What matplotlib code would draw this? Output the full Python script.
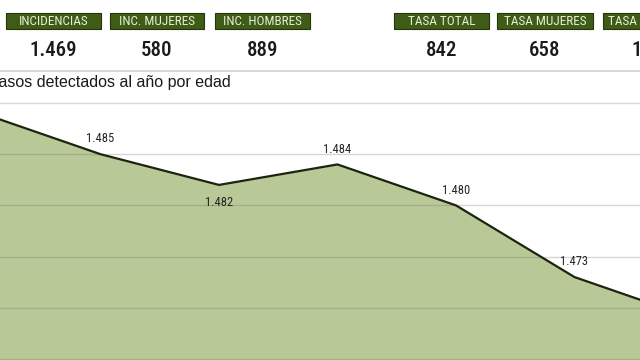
import matplotlib
matplotlib.use("Agg")
import matplotlib.pyplot as plt
from matplotlib.patches import Rectangle
from matplotlib import font_manager

# ---- data ----
header_labels = ["INCIDENCIAS", "INC. MUJERES", "INC. HOMBRES", "TASA TOTAL", "TASA MUJERES", "TASA HOMBRES"]
header_values = ["1.469", "580", "889", "842", "658", "1"]
title = "Casos detectados al año por edad"
series = [1489, 1485, 1482, 1484, 1480, 1473, 1469]
labelled = [1, 2, 3, 4, 5]          # indices that carry a data label
label_below = [2]                   # labels placed under the point
grid_values = [1465, 1470, 1475, 1480, 1485, 1490]

# pick a condensed face if one is installed
names = {f.name for f in font_manager.fontManager.ttflist}
cond_pref = ["Roboto Condensed", "Open Sans Condensed", "Liberation Sans Narrow",
             "DejaVu Sans Condensed", "Noto Sans Condensed"]
cond_name = next((n for n in cond_pref if n in names), None)
condensed_faces = [f.name for f in font_manager.fontManager.ttflist
                   if str(f.stretch) in ("condensed", "semi-condensed", "extra-condensed")]
if cond_name is None and condensed_faces:
    cond_name = condensed_faces[0]
cond = [cond_name, "DejaVu Sans"] if cond_name else ["DejaVu Sans"]

W, H = 640, 360
fig = plt.figure(figsize=(W / 100, H / 100), dpi=100)
fig.patch.set_facecolor("white")

# ---- chart ----
ax = fig.add_axes([0, 0, 1, 1])
ax.set_facecolor("none")
x = list(range(len(series)))
ax.fill_between(x, series, 1400, color="#b8c897", lw=0, zorder=1)
ax.plot(x, series, color="#1c2410", lw=1.6, zorder=4, solid_joinstyle="round")
for g in grid_values:
    ax.axhline(g, color="#707070", alpha=0.28, lw=1.0, zorder=2)
for i in labelled:
    v = series[i]
    off = -13 if i in label_below else 11
    ax.annotate(f"{v / 1000:.3f}", (x[i], v), xytext=(0, off), textcoords="offset points",
                ha="center", va="center", fontsize=9, color="#262626", family=cond,
                fontstretch="condensed", zorder=5)
ax.set_xlim(0.152, 5.553)
ax.set_ylim(1464.9, 1500.06)
ax.axis("off")

# ---- header ----
fig.add_artist(plt.Line2D([0, 1], [1 - 71 / H, 1 - 71 / H], color="#cfcfcf", lw=1.2,
                          transform=fig.transFigure))
boxes = [(6, 101), (110, 204), (215, 310), (394, 489), (497, 593), (603, 698)]
for (x0, x1), lab in zip(boxes, header_labels):
    fig.add_artist(Rectangle((x0 / W, 1 - 29 / H), (x1 - x0) / W, 16 / H,
                             facecolor="#3f5c16", edgecolor="#24340c", lw=0.8,
                             transform=fig.transFigure))
    cx = (x0 + x1) / 2
    fig.text(cx / W, 1 - 21.5 / H, lab, ha="center", va="center", fontsize=9.5,
             color="#e6eed6", family=cond, fontstretch="condensed")
for (x0, x1), val in zip(boxes[:5], header_values[:5]):
    cx = (x0 + x1) / 2
    fig.text(cx / W, 1 - 50 / H, val, ha="center", va="center", fontsize=15,
             color="#1a1a1a", family=cond, fontstretch="condensed", weight="medium")
fig.text(631 / W, 1 - 50 / H, header_values[5], ha="left", va="center", fontsize=15,
         color="#1a1a1a", family=cond, fontstretch="condensed", weight="medium")

fig.text(-13 / W, 1 - 82 / H, title, ha="left", va="center", fontsize=11.5,
         color="#1a1a1a", family=["Liberation Sans", "DejaVu Sans"])

fig.savefig("out.png", dpi=100, facecolor="white")
